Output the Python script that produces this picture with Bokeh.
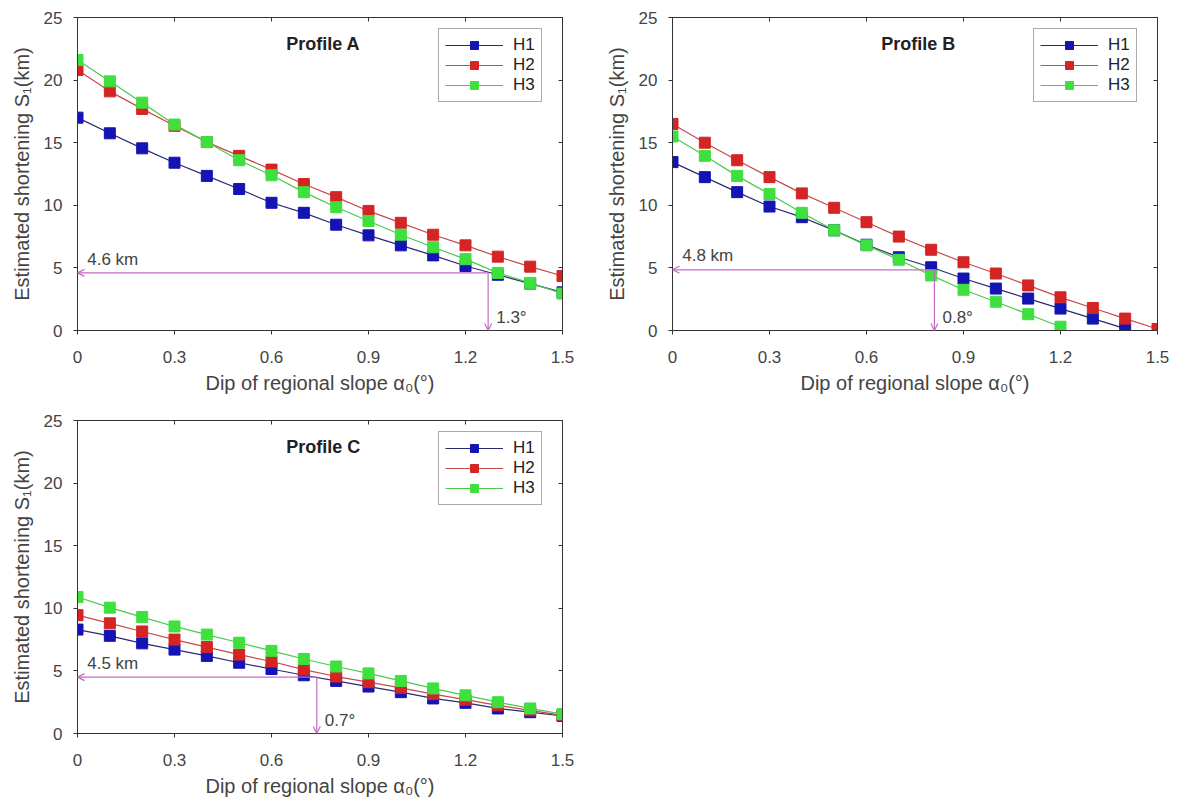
from bokeh.plotting import figure
from bokeh.layouts import gridplot
from bokeh.models import (Range1d, LinearAxis, FixedTicker, Legend, LegendItem,
                          Arrow, OpenHead, Label)
from bokeh.embed import file_html
from bokeh.resources import INLINE

FONT = "Liberation Sans"

# ---------------- data ----------------
dip = [0.0, 0.1, 0.2, 0.3, 0.4, 0.5, 0.6, 0.7, 0.8, 0.9, 1.0, 1.1, 1.2, 1.3, 1.4, 1.5]

a_h1 = [17.0, 15.75, 14.55, 13.4, 12.35, 11.3, 10.2, 9.4, 8.45, 7.6, 6.8, 6.0, 5.15, 4.45, 3.75, 3.05]
a_h2 = [20.8, 19.1, 17.7, 16.35, 15.05, 13.95, 12.85, 11.7, 10.65, 9.55, 8.6, 7.65, 6.8, 5.9, 5.1, 4.35]
a_h3 = [21.6, 19.9, 18.2, 16.45, 15.05, 13.6, 12.4, 11.05, 9.85, 8.75, 7.65, 6.65, 5.7, 4.6, 3.8, 2.95]

b_h1 = [13.45, 12.25, 11.05, 9.9, 9.05, 8.0, 6.85, 5.85, 5.05, 4.15, 3.35, 2.55, 1.75, 0.95, 0.15]
b_h2 = [16.5, 15.0, 13.6, 12.25, 10.95, 9.8, 8.65, 7.5, 6.45, 5.45, 4.55, 3.6, 2.65, 1.8, 0.95, 0.12]
b_h3 = [15.5, 13.95, 12.35, 10.9, 9.4, 8.0, 6.8, 5.65, 4.4, 3.25, 2.3, 1.3, 0.3]

c_h1 = [8.3, 7.8, 7.2, 6.7, 6.2, 5.65, 5.15, 4.65, 4.2, 3.75, 3.3, 2.8, 2.45, 2.0, 1.7, 1.4]
c_h2 = [9.45, 8.8, 8.15, 7.5, 6.9, 6.3, 5.75, 5.1, 4.55, 4.1, 3.65, 3.15, 2.7, 2.25, 1.85, 1.45]
c_h3 = [10.9, 10.05, 9.3, 8.55, 7.9, 7.25, 6.6, 5.95, 5.35, 4.8, 4.2, 3.6, 3.05, 2.5, 2.0, 1.55]

series_names = ["H1", "H2", "H3"]
profiles = ["Profile A", "Profile B", "Profile C"]

# reading lines: shortening value (km) and the dip where it is reached
read_km = [4.6, 4.85, 4.5]
read_dip = [1.27, 0.81, 0.74]
read_km_text = ["4.6 km", "4.8 km", "4.5 km"]
read_dip_text = ["1.3°", "0.8°", "0.7°"]

x_ticks = [0, 0.3, 0.6, 0.9, 1.2, 1.5]
y_ticks = [0, 5, 10, 15, 20, 25]

# ---------------- style ----------------
marker_colors = ["#1414b4", "#d42424", "#3ee03e"]
line_colors = ["#2a2a70", "#c84a4a", "#4cc84c"]
MAG = "#c46ac4"
AX = "#333333"
TXT = "#444444"


def make_panel(idx, data, geom):
    left, right, top, bottom = geom
    p = figure(frame_width=485, frame_height=313,
               min_border_left=left, min_border_right=right,
               min_border_top=top, min_border_bottom=bottom,
               x_range=Range1d(0, 1.5), y_range=Range1d(0, 25),
               output_backend="svg", toolbar_location=None,
               x_axis_label="Dip of regional slope α₀(°)",
               y_axis_label="Estimated shortening S₁(km)")
    p.grid.visible = False
    p.outline_line_color = AX
    p.outline_line_width = 1
    p.background_fill_color = "white"
    p.border_fill_color = "white"

    for ax, ticks in ((p.xaxis[0], x_ticks), (p.yaxis[0], y_ticks)):
        ax.ticker = FixedTicker(ticks=ticks)
        ax.minor_tick_line_color = None
        ax.major_tick_out = 4
        ax.major_tick_in = 0
        ax.axis_line_color = AX
        ax.major_tick_line_color = AX
        ax.major_label_text_font = FONT
        ax.major_label_text_font_size = "17px"
        ax.major_label_text_color = TXT
        ax.axis_label_text_font = FONT
        ax.axis_label_text_font_size = "20px"
        ax.axis_label_text_font_style = "normal"
        ax.axis_label_text_color = TXT
    p.yaxis[0].major_label_standoff = 11
    p.yaxis[0].axis_label_standoff = 8
    p.xaxis[0].major_label_standoff = 16
    p.xaxis[0].axis_label_standoff = 6

    # inward ticks on top and right (no labels)
    for loc, ticks in (("above", x_ticks), ("right", y_ticks)):
        ax = LinearAxis(ticker=FixedTicker(ticks=ticks))
        ax.major_label_text_font_size = "0px"
        ax.major_label_text_color = None
        ax.major_label_standoff = 0
        ax.major_tick_in = 4
        ax.major_tick_out = 0
        ax.minor_tick_line_color = None
        ax.axis_line_color = AX
        ax.major_tick_line_color = AX
        p.add_layout(ax, loc)

    items = []
    for k, ys in enumerate(data):
        xs = dip[:len(ys)]
        ln = p.line(xs, ys, line_color=line_colors[k], line_width=1.2)
        sc = p.scatter(xs, ys, marker="square", size=11,
                       fill_color=marker_colors[k], line_color=marker_colors[k])
        items.append(LegendItem(label=series_names[k], renderers=[ln, sc]))

    leg = Legend(items=items, location=(361, 228),
                 label_text_font=FONT, label_text_font_size="17px",
                 label_text_color="#222222",
                 glyph_width=58, glyph_height=20, label_height=20,
                 label_standoff=10, spacing=0, padding=6, margin=0,
                 border_line_color="#555555", border_line_width=1,
                 background_fill_alpha=1.0)
    p.add_layout(leg, "center")

    # title inside
    p.add_layout(Label(x=0.76, y=22.9, text=profiles[idx], text_font=FONT,
                       text_font_size="18px", text_font_style="bold",
                       text_color="#222222", text_align="center",
                       text_baseline="middle"))

    # reading arrows
    km, dg = read_km[idx], read_dip[idx]
    p.add_layout(Arrow(x_start=dg, y_start=km, x_end=0, y_end=km,
                       line_color=MAG, line_width=1.2,
                       end=OpenHead(size=7, line_color=MAG, line_width=1.2)))
    p.add_layout(Arrow(x_start=dg, y_start=km, x_end=dg, y_end=0,
                       line_color=MAG, line_width=1.2,
                       end=OpenHead(size=7, line_color=MAG, line_width=1.2)))
    p.add_layout(Label(x=0.03, y=km + 0.35, text=read_km_text[idx], text_font=FONT,
                       text_font_size="17px", text_color=TXT,
                       text_align="left", text_baseline="bottom"))
    p.add_layout(Label(x=dg + 0.025, y=1.0, text=read_dip_text[idx], text_font=FONT,
                       text_font_size="17px", text_color=TXT,
                       text_align="left", text_baseline="middle"))
    return p


pA = make_panel(0, [a_h1, a_h2, a_h3], (77, 26, 17, 70))
pB = make_panel(1, [b_h1, b_h2, b_h3], (84, 12, 17, 70))
pC = make_panel(2, [c_h1, c_h2, c_h3], (77, 26, 20, 68))

grid = gridplot([[pA, pB], [pC, None]], toolbar_location=None)

open("out.html", "w").write(file_html(grid, INLINE))
